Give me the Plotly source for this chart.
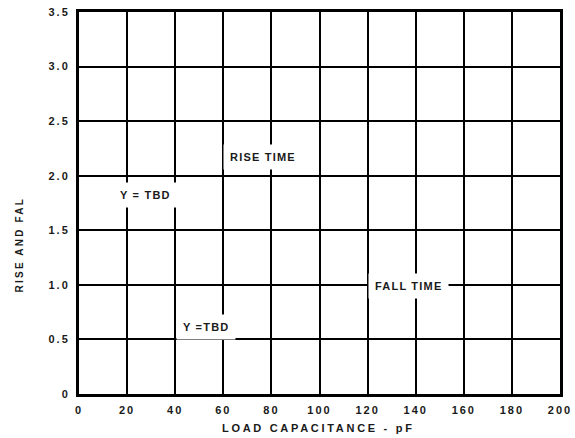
import plotly.graph_objects as go

# axis ticks
x_ticks = [0, 20, 40, 60, 80, 100, 120, 140, 160, 180, 200]
y_ticks = [0, 0.5, 1.0, 1.5, 2.0, 2.5, 3.0, 3.5]
y_tick_text = ["0", "0.5", "1.0", "1.5", "2.0", "2.5", "3.0", "3.5"]

# placeholder labels on the grid
note_text = ["RISE TIME", "Y = TBD", "FALL TIME", "Y =TBD"]
note_x = [76.5, 27.8, 137.0, 52.7]
note_y = [2.17, 1.82, 0.99, 0.61]

FONT = "Liberation Sans"
INK = "#1a1a1a"


def spaced(s, px):
    return f'<span style="letter-spacing:{px}px">{s}</span>'


fig = go.Figure()
fig.add_trace(go.Scatter(x=[0, 200], y=[0, 3.5], mode="markers",
                         marker=dict(opacity=0), hoverinfo="skip", showlegend=False))

for t, x, y in zip(note_text, note_x, note_y):
    fig.add_annotation(x=x, y=y, text=spaced(t, 1.2), showarrow=False,
                       bgcolor="white", borderpad=6,
                       font=dict(family=FONT, size=11, color=INK, weight="bold"))

# axis titles placed by hand
fig.add_annotation(xref="paper", yref="paper", x=0.497, y=-0.09, yanchor="middle",
                   text=spaced("LOAD CAPACITANCE - pF", 2.7), showarrow=False,
                   font=dict(family=FONT, size=11, color=INK, weight="bold"))
fig.add_annotation(xref="paper", yref="paper", x=-0.124, y=0.39, xanchor="center",
                   text=spaced("RISE AND FAL", 2.2), showarrow=False, textangle=-90,
                   font=dict(family=FONT, size=10, color=INK, weight="bold"))

axis_common = dict(
    showgrid=True, gridcolor="black", gridwidth=2,
    showline=True, linecolor="black", linewidth=3, mirror=True,
    zeroline=False, ticks="", automargin=False,
    tickfont=dict(family=FONT, size=11, color=INK, weight="bold"),
)

fig.update_xaxes(range=[0, 200], tickvals=x_ticks,
                 ticktext=[spaced(str(v), 2) for v in x_ticks],
                 ticklabelstandoff=4,
                 **axis_common)
fig.update_yaxes(range=[0, 3.5], tickvals=y_ticks,
                 ticktext=[spaced(v, 2) for v in y_tick_text],
                 ticklabelstandoff=4,
                 **axis_common)

fig.update_layout(
    width=575, height=438,
    margin=dict(l=79, r=15, t=12, b=44),
    plot_bgcolor="white", paper_bgcolor="white",
    showlegend=False,
)

# drop the browser's default body margin so the figure sits at the page corner
fig.write_html("out.html", config={"displayModeBar": False},
               post_script="document.body.style.margin='0';")
